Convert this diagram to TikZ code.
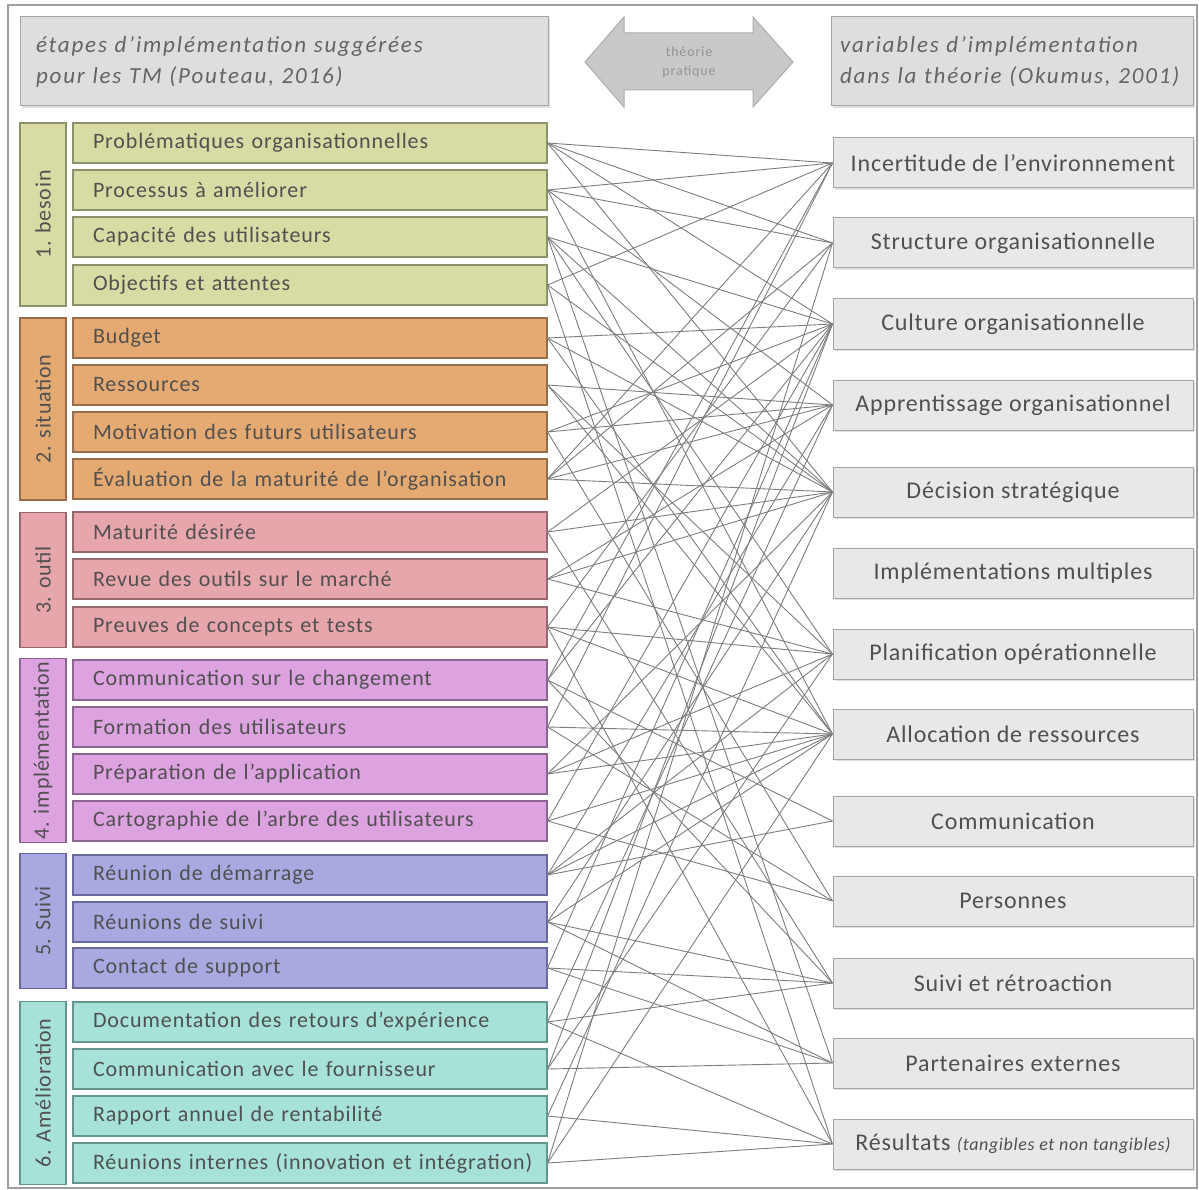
\documentclass[tikz,border=0pt]{standalone}
\usepackage{fontspec}
\setmainfont{Carlito}
\newfontfamily\itemface[LetterSpace=4]{Carlito}
\newfontfamily\varface[LetterSpace=3.5]{Carlito}
\newfontfamily\hdrface[LetterSpace=8]{Carlito}
\newfontfamily\grpface[LetterSpace=3.5]{Carlito}
\newfontfamily\arrface[LetterSpace=6]{Carlito}
\usetikzlibrary{shadows}

\definecolor{gAfill}{RGB}{216,219,164}\definecolor{gAline}{RGB}{140,145,105}
\definecolor{gBfill}{RGB}{229,170,114}\definecolor{gBline}{RGB}{150,110,75}
\definecolor{gCfill}{RGB}{230,166,171}\definecolor{gCline}{RGB}{150,105,110}
\definecolor{gDfill}{RGB}{221,162,224}\definecolor{gDline}{RGB}{140,100,145}
\definecolor{gEfill}{RGB}{169,169,226}\definecolor{gEline}{RGB}{105,105,155}
\definecolor{gFfill}{RGB}{166,226,216}\definecolor{gFline}{RGB}{100,150,140}
\definecolor{varfill}{RGB}{232,232,232}
\definecolor{varline}{RGB}{165,165,165}
\definecolor{hdrfill}{RGB}{222,222,222}
\definecolor{txt}{RGB}{80,80,80}
\definecolor{hdrtxt}{RGB}{100,100,100}
\definecolor{linkcol}{RGB}{125,125,125}

\tikzset{
  item/.style={draw=#1line, fill=#1fill, line width=1.1pt, minimum height=40pt,
    text width=434pt, align=left, inner xsep=20pt, text=txt,
    font=\itemface\fontsize{22}{24}\selectfont},
  grp/.style={draw=#1line, fill=#1fill, line width=1.1pt, minimum height=46pt,
    rotate=90, text=txt, font=\grpface\fontsize{22}{24}\selectfont},
  var/.style={draw=varline, fill=varfill, line width=1pt, minimum width=360pt,
    minimum height=50pt, text=txt, font=\varface\fontsize{24}{26}\selectfont,
    drop shadow={shadow xshift=2pt, shadow yshift=-2pt, opacity=.25}},
  hdr/.style={draw=varline, fill=hdrfill, line width=1pt, minimum height=89pt,
    align=left, text=hdrtxt, font=\hdrface\fontsize{23}{31}\selectfont\itshape,
    drop shadow={shadow xshift=2pt, shadow yshift=-2pt, opacity=.25}},
  link/.style={draw=linkcol, line width=0.9pt}
}

\begin{document}
\begin{tikzpicture}[x=1pt,y=-1pt]
\useasboundingbox (0,0) rectangle (1199,1190);
\fill[white] (0,0) rectangle (1199,1190);
\draw[gray!75, line width=1.5pt] (8,5) rectangle (1197,1188);

% header boxes
\node[hdr, text width=496pt, inner xsep=16pt] (hleft) at (284,61.5)
  {étapes d’implémentation suggérées\\pour les TM (Pouteau, 2016)};
\node[hdr, text width=344pt, inner xsep=9pt] (hright) at (1012,61.5)
  {variables d’implémentation\\dans la théorie (Okumus, 2001)};

% double arrow between the headers
\filldraw[fill=gray!42, draw=gray!65, line width=1pt]
  (585,62) -- (624,17) -- (624,33) -- (753,33) -- (753,17) -- (793,62)
  -- (753,107) -- (753,90) -- (624,90) -- (624,107) -- cycle;
\node[text=gray!85, align=center, font=\arrface\fontsize{14}{19}\selectfont] (arrtxt) at (689,62)
  {théorie\\pratique};

% stage labels
\node[grp=gA, minimum width=183pt] (s1) at (43,214.5) {1. besoin};
\node[grp=gB, minimum width=182pt] (s2) at (43,409) {2. situation};
\node[grp=gC, minimum width=135pt] (s3) at (43,580) {3. outil};
\node[grp=gD, minimum width=182pt] (s4) at (43,750.5) {4. implémentation};
\node[grp=gE, minimum width=135pt] (s5) at (43,921) {5. Suivi};
\node[grp=gF, minimum width=183pt] (s6) at (43,1093) {6. Amélioration};

% suggested steps
\node[item=gA] (l1) at (310,143) {Problématiques organisationnelles};
\node[item=gA] (l2) at (310,190) {Processus à améliorer};
\node[item=gA] (l3) at (310,237) {Capacité des utilisateurs};
\node[item=gA] (l4) at (310,285) {Objectifs et attentes};
\node[item=gB] (l5) at (310,338) {Budget};
\node[item=gB] (l6) at (310,385) {Ressources};
\node[item=gB] (l7) at (310,432) {Motivation des futurs utilisateurs};
\node[item=gB] (l8) at (310,479) {Évaluation de la maturité de l’organisation};
\node[item=gC] (l9) at (310,532) {Maturité désirée};
\node[item=gC] (l10) at (310,579) {Revue des outils sur le marché};
\node[item=gC] (l11) at (310,627) {Preuves de concepts et tests};
\node[item=gD] (l12) at (310,680) {Communication sur le changement};
\node[item=gD] (l13) at (310,727) {Formation des utilisateurs};
\node[item=gD] (l14) at (310,774) {Préparation de l’application};
\node[item=gD] (l15) at (310,821) {Cartographie de l’arbre des utilisateurs};
\node[item=gE] (l16) at (310,875) {Réunion de démarrage};
\node[item=gE] (l17) at (310,922) {Réunions de suivi};
\node[item=gE] (l18) at (310,968) {Contact de support};
\node[item=gF] (l19) at (310,1022) {Documentation des retours d’expérience};
\node[item=gF] (l20) at (310,1069) {Communication avec le fournisseur};
\node[item=gF] (l21) at (310,1116) {Rapport annuel de rentabilité};
\node[item=gF] (l22) at (310,1163) {Réunions internes (innovation et intégration)};

% implementation variables
\node[var] (vA) at (1013,163) {Incertitude de l’environnement};
\node[var] (vB) at (1013,243) {Structure organisationnelle};
\node[var] (vC) at (1013,324) {Culture organisationnelle};
\node[var] (vD) at (1013,405) {Apprentissage organisationnel};
\node[var] (vE) at (1013,492) {Décision stratégique};
\node[var] (vF) at (1013,573) {Implémentations multiples};
\node[var] (vG) at (1013,654) {Planification opérationnelle};
\node[var] (vH) at (1013,734) {Allocation de ressources};
\node[var] (vI) at (1013,821) {Communication};
\node[var] (vJ) at (1013,901) {Personnes};
\node[var] (vK) at (1013,983) {Suivi et rétroaction};
\node[var] (vL) at (1013,1063) {Partenaires externes};
\node[var, inner xsep=2pt] (vM) at (1013,1144) {Résultats {\fontsize{18}{20}\selectfont\itshape (tangibles et non tangibles)}};

% links between steps and variables
\foreach \a/\b in {
  l1/vA, l1/vB, l1/vC, l1/vE,
  l2/vA, l2/vB, l2/vD, l2/vH,
  l3/vC, l3/vE, l3/vG, l3/vL,
  l4/vA, l4/vE, l4/vM,
  l5/vC, l5/vE, l5/vH,
  l6/vD, l6/vH, l6/vG,
  l7/vC, l7/vD, l7/vJ,
  l8/vA, l8/vB, l8/vD, l8/vE,
  l9/vC, l9/vE, l9/vK,
  l10/vE, l10/vG, l10/vD,
  l11/vB, l11/vG, l11/vH, l11/vM,
  l12/vA, l12/vC, l12/vI, l12/vK,
  l13/vA, l13/vH, l13/vJ,
  l14/vE, l14/vH, l14/vG,
  l15/vC, l15/vH, l15/vJ,
  l16/vD, l16/vG, l16/vH, l16/vI,
  l17/vE, l17/vH, l17/vK, l17/vL,
  l18/vC, l18/vK, l18/vL,
  l19/vD, l19/vK, l19/vM,
  l20/vC, l20/vL, l20/vG,
  l21/vE, l21/vM,
  l22/vB, l22/vM, l22/vH}
  \draw[link] (\a.east) -- (\b.west);
\end{tikzpicture}
\end{document}
